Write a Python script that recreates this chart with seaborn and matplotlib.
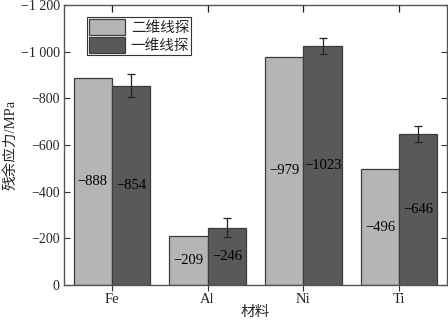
import numpy as np
import pandas as pd
import matplotlib
matplotlib.use("Agg")
import matplotlib.pyplot as plt
import seaborn as sns
from matplotlib.ticker import FuncFormatter

# Residual stress by material, two probe types
materials = ["Fe", "Al", "Ni", "Ti"]
series_names = ["二维线探", "一维线探"]
stress_2d = [-888, -209, -979, -496]
stress_1d = [-854, -246, -1023, -646]
err_1d = [50, 40, 35, 35]

sns.set_theme(style="white")
plt.rcParams["font.family"] = ["Liberation Serif", "Noto Sans CJK SC"]
plt.rcParams["axes.unicode_minus"] = True

df = pd.DataFrame({
    "材料": materials * 2,
    "应力": stress_2d + stress_1d,
    "探头": [series_names[0]] * len(materials) + [series_names[1]] * len(materials),
})

fig = plt.figure(figsize=(4.48, 3.23), dpi=100)
ax = fig.add_axes([64 / 448, 1 - 285 / 323, 383 / 448, 280 / 323])

palette = {series_names[0]: "#b5b5b5", series_names[1]: "#595959"}
sns.barplot(data=df, x="材料", y="应力", hue="探头", hue_order=series_names,
            palette=palette, edgecolor="#3c3c3c", linewidth=0.9,
            errorbar=None, width=0.8, saturation=1, ax=ax)

ax.set_ylim(0, -1200)
ax.set_xlim(-0.5, 3.5)

def fmt(v, pos):
    v = int(round(v))
    if v == 0:
        return "0"
    s = f"{abs(v):,}".replace(",", " ")
    return "\u2212" + s

ax.yaxis.set_major_locator(plt.MultipleLocator(200))
ax.yaxis.set_major_formatter(FuncFormatter(fmt))

# Value labels and error bars from the drawn bars
for container, vals, errs in zip(ax.containers, [stress_2d, stress_1d], [None, err_1d]):
    for i, (bar, v) in enumerate(zip(container.patches, vals)):
        cx = bar.get_x() + bar.get_width() / 2
        ax.text(cx, v / 2, "\u2212" + str(abs(v)), ha="center", va="center",
                fontsize=10.5, color="black")
        if errs is not None:
            ax.errorbar(cx, v, yerr=errs[i], fmt="none", ecolor="#222222",
                        elinewidth=0.9, capsize=3, capthick=0.9)

for s in ax.spines.values():
    s.set_color("#555555")
    s.set_linewidth(1.0)

ax.tick_params(axis="y", which="both", direction="in", left=True, right=True,
               length=4, width=0.8, color="#333333", labelsize=10, pad=3)
ax.tick_params(axis="x", which="both", direction="out", bottom=True, top=False,
               length=4, width=0.8, color="#333333", labelsize=10.5, pad=2)

# inward ticks along the top edge
top = ax.twiny()
top.set_xlim(ax.get_xlim())
top.set_xticks(range(len(materials)))
top.tick_params(axis="x", direction="in", top=True, bottom=False, labeltop=False,
                length=5, width=0.9, color="#222222")
for s in top.spines.values():
    s.set_visible(False)

ax.set_xlabel("材料", fontsize=10.5, labelpad=0)
ax.set_ylabel("残余应力/MPa", fontsize=10.5)
ax.yaxis.set_label_coords(-0.122, 0.5)

leg = ax.legend(loc="upper left", bbox_to_anchor=(0.06, 0.957), borderaxespad=0,
                fontsize=10.5, frameon=True, fancybox=False, handlelength=2.45,
                handleheight=1.3, labelspacing=0.15, handletextpad=0.4,
                borderpad=0.15, title=None)
leg.get_frame().set_edgecolor("black")
leg.get_frame().set_linewidth(0.8)

fig.savefig("out.png", dpi=100)
